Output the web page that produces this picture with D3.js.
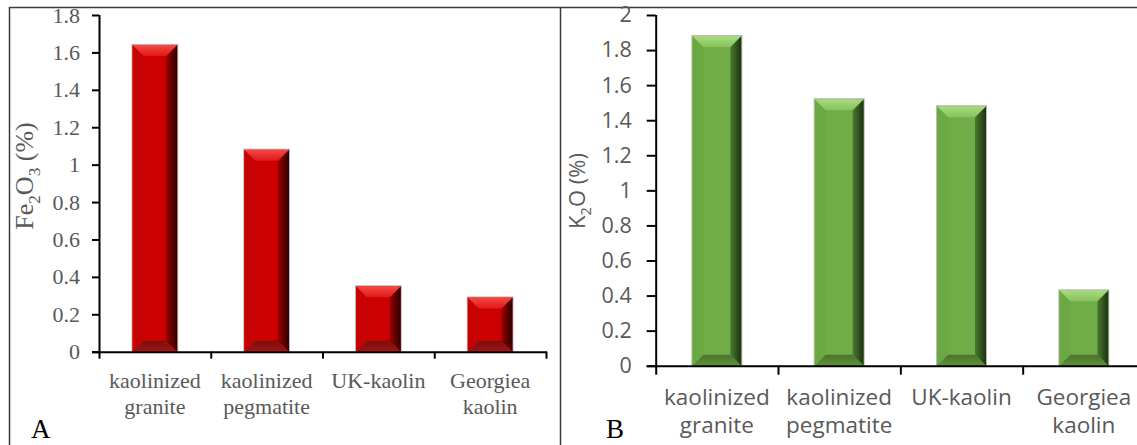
<!DOCTYPE html>
<html>
<head>
<meta charset="utf-8">
<script src="https://cdn.jsdelivr.net/npm/d3@7"></script>
<style>
  html, body { margin: 0; padding: 0; background: #fff; }
  svg { display: block; }
</style>
</head>
<body>
<svg id="chart" width="1137" height="445"></svg>
<script>
// Samples shared by both panels (each label is split over two lines)
const categories = [
  ["kaolinized", "granite"],
  ["kaolinized", "pegmatite"],
  ["UK-kaolin"],
  ["Georgiea", "kaolin"]
];

// Iron oxide content (%)
const fe2o3Values = [1.64, 1.08, 0.35, 0.29];
const fe2o3Ticks = [0, 0.2, 0.4, 0.6, 0.8, 1, 1.2, 1.4, 1.6, 1.8];
const fe2o3TickLabels = ["0", "0.2", "0.4", "0.6", "0.8", "1", "1.2", "1.4", "1.6", "1.8"];

// Potassium oxide content (%)
const k2oValues = [1.88, 1.52, 1.48, 0.43];
const k2oTicks = [0, 0.2, 0.4, 0.6, 0.8, 1, 1.2, 1.4, 1.6, 1.8, 2];
const k2oTickLabels = ["0", "0.2", "0.4", "0.6", "0.8", "1", "1.2", "1.4", "1.6", "1.8", "2"];

const svg = d3.select("#chart");
const defs = svg.append("defs");

// Bevelled-bar palettes
const palettes = {
  red: {
    base: "#CC0000", left: "#C60202",
    top: ["#F54A46", "#E01818"],
    right: ["#9A0000", "#2E0000"],
    bottom: ["#761010", "#A51212"]
  },
  green: {
    base: "#70AD47", left: "#6CA844",
    top: ["#A9DC80", "#86C25D"],
    right: ["#4A7A2E", "#1C3210"],
    bottom: ["#4A732E", "#5E9139"]
  }
};

function gradient(id, stops, vertical) {
  const g = defs.append("linearGradient").attr("id", id)
    .attr("x1", 0).attr("y1", 0)
    .attr("x2", vertical ? 0 : 1).attr("y2", vertical ? 1 : 0);
  g.append("stop").attr("offset", "0%").attr("stop-color", stops[0]);
  g.append("stop").attr("offset", "100%").attr("stop-color", stops[1]);
}
Object.entries(palettes).forEach(([k, p]) => {
  gradient(k + "-top", p.top, true);
  gradient(k + "-right", p.right, false);
  gradient(k + "-bottom", p.bottom, true);
});

// Outer frame of the figure
svg.append("path")
  .attr("d", "M9.5,450 V7.5 H1140 M560.5,7.5 V450")
  .attr("fill", "none").attr("stroke", "#3a3a3a").attr("stroke-width", 1.5);

function drawPanel(cfg) {
  const g = svg.append("g");
  const y = d3.scaleLinear().domain([0, cfg.max]).range([cfg.y0, cfg.yTop]);
  const x = d3.scaleBand().domain(d3.range(cfg.values.length))
    .range([cfg.xLeft, cfg.xRight]).paddingInner(0.6).paddingOuter(0.3);

  // bars with bevelled faces
  const bars = g.selectAll("g.bar").data(cfg.values).join("g").attr("class", "bar");
  bars.each(function (v, i) {
    const b = d3.select(this);
    const x0 = x(i), x1 = x(i) + x.bandwidth();
    const yt = y(v), yb = y(0);
    const bv = Math.min(11, (yb - yt) / 2);
    const pal = cfg.palette;
    const poly = pts => pts.map(p => p.join(",")).join(" ");
    b.append("rect").attr("x", x0 - 0.5).attr("y", yt - 0.5)
      .attr("width", x1 - x0 + 1).attr("height", yb - yt + 0.5)
      .attr("fill", "none").attr("stroke", "#b8b8b8").attr("stroke-width", 1);
    b.append("rect").attr("x", x0).attr("y", yt).attr("width", x1 - x0).attr("height", yb - yt)
      .attr("fill", palettes[pal].base);
    b.append("polygon").attr("points", poly([[x0, yt], [x0 + bv, yt + bv], [x0 + bv, yb - bv], [x0, yb]]))
      .attr("fill", palettes[pal].left);
    b.append("polygon").attr("points", poly([[x1, yt], [x1 - bv, yt + bv], [x1 - bv, yb - bv], [x1, yb]]))
      .attr("fill", `url(#${pal}-right)`);
    b.append("polygon").attr("points", poly([[x0, yt], [x1, yt], [x1 - bv, yt + bv], [x0 + bv, yt + bv]]))
      .attr("fill", `url(#${pal}-top)`);
    b.append("polygon").attr("points", poly([[x0, yb], [x1, yb], [x1 - bv, yb - bv], [x0 + bv, yb - bv]]))
      .attr("fill", `url(#${pal}-bottom)`);
  });

  // y axis
  const yAxis = d3.axisLeft(y).tickValues(cfg.ticks)
    .tickFormat((d, i) => cfg.tickLabels[i])
    .tickSize(cfg.tickLen).tickPadding(cfg.tickPad).tickSizeOuter(0);
  const ya = g.append("g").attr("transform", `translate(${cfg.xLeft},0)`).call(yAxis);
  ya.select(".domain").attr("stroke", "#000").attr("stroke-width", 2)
    .attr("d", `M0.5,${cfg.yTop}V${cfg.y0}`);
  ya.selectAll(".tick line").attr("stroke", "#000").attr("stroke-width", 2);
  ya.selectAll(".tick text").attr("fill", "#595959")
    .attr("font-family", cfg.font).attr("font-size", cfg.tickFont);

  // x axis line with ticks at category boundaries
  const step = x.step();
  const xa = g.append("g");
  xa.append("line").attr("x1", cfg.xLeft - cfg.tickLen).attr("x2", cfg.xRight + 1)
    .attr("y1", cfg.y0 + 0.5).attr("y2", cfg.y0 + 0.5)
    .attr("stroke", "#000").attr("stroke-width", 2);
  xa.selectAll("line.bt").data(d3.range(cfg.values.length + 1)).join("line").attr("class", "bt")
    .attr("x1", i => cfg.xLeft + 0.5 + i * step).attr("x2", i => cfg.xLeft + 0.5 + i * step)
    .attr("y1", cfg.y0).attr("y2", cfg.y0 + cfg.tickLen)
    .attr("stroke", "#000").attr("stroke-width", 2);

  // category labels
  const lbl = g.selectAll("text.cat").data(categories).join("text").attr("class", "cat")
    .attr("text-anchor", "middle").attr("fill", "#595959")
    .attr("font-family", cfg.font).attr("font-size", cfg.catFont);
  lbl.each(function (lines, i) {
    const t = d3.select(this);
    const cx = x(i) + x.bandwidth() / 2;
    lines.forEach((s, k) => {
      t.append("tspan").attr("x", cx).attr("y", cfg.y0 + cfg.catDy + k * cfg.catLine).text(s);
    });
  });

  // y title with subscripts
  const title = g.append("text")
    .attr("transform", `translate(${cfg.titleX},${cfg.titleY}) rotate(-90)`)
    .attr("text-anchor", "middle").attr("fill", "#595959")
    .attr("font-family", cfg.font).attr("font-size", cfg.titleFont);
  cfg.title.forEach(([s, sub], i) => {
    const ts = title.append("tspan").text(s);
    const prevSub = i > 0 && cfg.title[i - 1][1];
    if (sub) ts.attr("font-size", cfg.titleFont * 0.66).attr("dy", cfg.titleFont * 0.28);
    else if (prevSub) ts.attr("dy", -cfg.titleFont * 0.28);
  });

  // panel letter
  svg.append("text").attr("x", cfg.letterX).attr("y", cfg.letterY)
    .attr("font-family", "'Liberation Serif', serif").attr("font-size", 27)
    .attr("fill", "#000").text(cfg.letter);
}

drawPanel({
  values: fe2o3Values, ticks: fe2o3Ticks, tickLabels: fe2o3TickLabels, max: 1.8,
  palette: "red", xLeft: 99, xRight: 546, y0: 351.7, yTop: 15,
  tickLen: 7, tickPad: 12, font: "'Liberation Serif', 'Times New Roman', serif", tickFont: 22, catFont: 22,
  catDy: 36.5, catLine: 26,
  title: [["Fe"], ["2", true], ["O"], ["3", true], [" (%)"]],
  titleX: 33, titleY: 176, titleFont: 26,
  letter: "A", letterX: 31, letterY: 438
});

drawPanel({
  values: k2oValues, ticks: k2oTicks, tickLabels: k2oTickLabels, max: 2,
  palette: "green", xLeft: 655.7, xRight: 1145, y0: 365.7, yTop: 15,
  tickLen: 9, tickPad: 15, font: "'Open Sans', sans-serif", tickFont: 21.5, catFont: 22.5,
  catDy: 39.5, catLine: 28,
  title: [["K"], ["2", true], ["O (%)"]],
  titleX: 585, titleY: 191, titleFont: 22,
  letter: "B", letterX: 606, letterY: 438
});
</script>
</body>
</html>
